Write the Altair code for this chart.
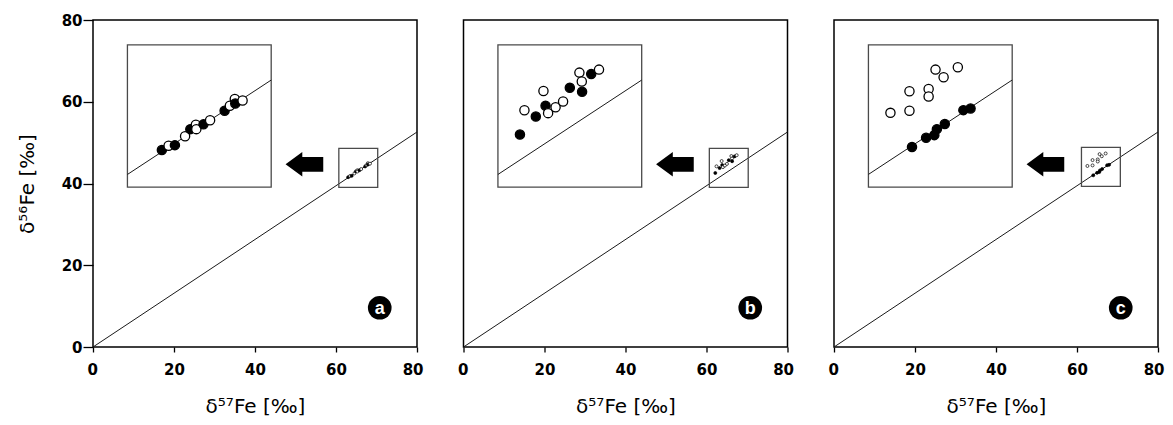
import altair as alt
import pandas as pd

PANELS = ["a", "b", "c"]

# --- sample data: delta57Fe / delta56Fe (per mil) ---
A_FILLED_D57 = [63.00, 63.87, 64.90, 65.78, 67.19, 67.90]
A_FILLED_D56 = [41.54, 41.87, 42.94, 43.26, 44.17, 44.65]
A_OPEN_D57 = [63.45, 64.55, 65.30, 65.27, 66.22, 67.54, 67.87, 68.39]
A_OPEN_D56 = [41.83, 42.47, 42.94, 43.24, 43.53, 44.50, 44.96, 44.85]

B_FILLED_D57 = [62.17, 63.23, 63.88, 65.50, 66.32, 66.93]
B_FILLED_D56 = [42.58, 43.78, 44.51, 45.71, 45.44, 46.63]
B_OPEN_D57 = [62.47, 63.74, 64.05, 64.55, 65.05, 66.14, 66.30, 67.45]
B_OPEN_D56 = [44.20, 45.49, 44.01, 44.40, 44.79, 46.72, 46.12, 46.92]

C_FILLED_D57 = [64.01, 64.95, 65.50, 65.67, 66.20, 67.44, 67.92]
C_FILLED_D56 = [42.00, 42.62, 42.80, 43.20, 43.54, 44.47, 44.58]
C_OPEN_D57 = [62.57, 63.84, 63.84, 65.12, 65.12, 65.58, 66.12, 67.07]
C_OPEN_D56 = [44.29, 44.43, 45.73, 45.88, 45.38, 47.18, 46.67, 47.34]

# mass-dependent fractionation line
LINE_D57 = [0, 80]
LINE_D56 = [0, 52.6]

AXIS_TICKS = [0, 20, 40, 60, 80]

# --- layout constants (data units) ---
ZOOM_X0 = [60.7, 60.7, 61.1]
ZOOM_Y0 = [39.06, 39.06, 39.32]
ZOOM_W = 9.6
ZOOM_H = 9.51
INSET_X = [8.5, 44.0]
INSET_Y = [39.1, 73.9]
ARROW_POS = (52.2, 44.7)
LABEL_POS = (70.8, 9.6)
ARROW_PATH = "M-1,0 L-0.112,-0.65 L-0.112,-0.39 L1,-0.39 L1,0.39 L-0.112,0.39 L-0.112,0.65 Z"

series = {
    "a": (A_FILLED_D57, A_FILLED_D56, A_OPEN_D57, A_OPEN_D56),
    "b": (B_FILLED_D57, B_FILLED_D56, B_OPEN_D57, B_OPEN_D56),
    "c": (C_FILLED_D57, C_FILLED_D56, C_OPEN_D57, C_OPEN_D56),
}

rows = []
for p in PANELS:
    fx, fy, ox, oy = series[p]
    for x, y in zip(fx, fy):
        rows.append(dict(panel=p, kind="filled", d57=x, d56=y))
    for x, y in zip(ox, oy):
        rows.append(dict(panel=p, kind="open", d57=x, d56=y))
df = pd.DataFrame(rows)

slope = LINE_D56[1] / LINE_D57[1]
kx = (INSET_X[1] - INSET_X[0]) / ZOOM_W
ky = (INSET_Y[1] - INSET_Y[0]) / ZOOM_H

xs = alt.Scale(domain=[0, 80], nice=False, zero=False)
ys = alt.Scale(domain=[0, 80], nice=False, zero=False)

LABEL_FONT = "DejaVu Sans"
TITLE_FONT = "DejaVu Sans"

x_axis = alt.Axis(values=AXIS_TICKS, title="δ⁵⁷Fe [‰]", grid=False, domain=False,
                  tickSize=5, tickColor="black", tickWidth=1.3,
                  labelFont=LABEL_FONT, labelFontWeight="bold", labelFontSize=15,
                  labelColor="black", labelPadding=10, labelFlush=True, labelFlushOffset=6,
                  titleFont=TITLE_FONT, titleFontSize=20, titleFontWeight="normal",
                  titleColor="black", titlePadding=19)
y_axis_a = alt.Axis(values=AXIS_TICKS, title="δ⁵⁶Fe [‰]", grid=False, domain=False,
                    tickSize=10, tickColor="black", tickWidth=1.3,
                    labelFont=LABEL_FONT, labelFontWeight="bold", labelFontSize=15,
                    labelColor="black", labelPadding=1, labelFlush=False,
                    titleFont=TITLE_FONT, titleFontSize=20, titleFontWeight="normal",
                    titleColor="black", titlePadding=24)

fill_scale = alt.Scale(domain=["filled", "open"], range=["black", "white"])


def make_panel(i, p):
    sub = df[df.panel == p].copy()
    bx0, by0 = ZOOM_X0[i], ZOOM_Y0[i]
    sub["ix"] = INSET_X[0] + (sub.d57 - bx0) * kx
    sub["iy"] = INSET_Y[0] + (sub.d56 - by0) * ky
    sub = sub.sort_values("d57")

    y_axis = y_axis_a if i == 0 else None

    def X(f):
        return alt.X(f, scale=xs, axis=x_axis)

    def Y(f):
        return alt.Y(f, scale=ys, axis=y_axis)

    line_df = pd.DataFrame({"x": LINE_D57, "y": LINE_D56})
    line = alt.Chart(line_df).mark_line(color="#1a1a1a", strokeWidth=1).encode(
        x=X("x:Q"), y=Y("y:Q"),
    )

    boxes_df = pd.DataFrame({
        "x": [bx0, INSET_X[0]], "x2": [bx0 + ZOOM_W, INSET_X[1]],
        "y": [by0, INSET_Y[0]], "y2": [by0 + ZOOM_H, INSET_Y[1]],
    })
    boxes = alt.Chart(boxes_df).mark_rect(fill="transparent", stroke="#4a4a4a", strokeWidth=1.3).encode(
        x=X("x:Q"), x2="x2:Q", y=Y("y:Q"), y2="y2:Q",
    )

    seg_x = [bx0, bx0 + ZOOM_W]
    inset_line_df = pd.DataFrame({
        "x": [INSET_X[0] + (v - bx0) * kx for v in seg_x],
        "y": [INSET_Y[0] + (slope * v - by0) * ky for v in seg_x],
    })
    inset_line = alt.Chart(inset_line_df).mark_line(color="#1a1a1a", strokeWidth=1).encode(
        x=X("x:Q"), y=Y("y:Q"),
    )

    small_pts = alt.Chart(sub).mark_point(shape="circle", filled=True, size=9, strokeWidth=0.7,
                                          stroke="black", opacity=1).encode(
        x=X("d57:Q"), y=Y("d56:Q"),
        fill=alt.Fill("kind:N", scale=fill_scale, legend=None),
        order=alt.Order("d57:Q"),
    )

    inset_pts = alt.Chart(sub).mark_point(shape="circle", filled=True, size=85, strokeWidth=1.3,
                                          stroke="black", opacity=1).encode(
        x=X("ix:Q"), y=Y("iy:Q"),
        fill=alt.Fill("kind:N", scale=fill_scale, legend=None),
        order=alt.Order("d57:Q"),
    )

    arrow_df = pd.DataFrame({"x": [ARROW_POS[0]], "y": [ARROW_POS[1]]})
    arrow = alt.Chart(arrow_df).mark_point(shape=ARROW_PATH, size=1420, filled=True,
                                           color="black", opacity=1, strokeWidth=0).encode(
        x=X("x:Q"), y=Y("y:Q"),
    )

    lab_df = pd.DataFrame({"x": [LABEL_POS[0]], "y": [LABEL_POS[1]], "t": [p]})
    lab_circle = alt.Chart(lab_df).mark_point(shape="circle", size=560, filled=True,
                                              color="black", opacity=1).encode(
        x=X("x:Q"), y=Y("y:Q"),
    )
    lab_text = alt.Chart(lab_df).mark_text(color="white", font="Liberation Sans", fontWeight="bold",
                                           fontSize=18, align="center", baseline="middle", dy=1).encode(
        x=X("x:Q"), y=Y("y:Q"), text="t:N",
    )

    return alt.layer(line, boxes, inset_line, small_pts, inset_pts, arrow, lab_circle, lab_text).properties(
        width=324, height=327
    )


chart = alt.hconcat(*[make_panel(i, p) for i, p in enumerate(PANELS)], spacing=32.5).properties(
    padding={"left": 8, "top": 4, "right": 0, "bottom": 0}
).configure_view(stroke="black", strokeWidth=1.5)

chart.save("out.html", embed_options={"renderer": "svg", "actions": False})
